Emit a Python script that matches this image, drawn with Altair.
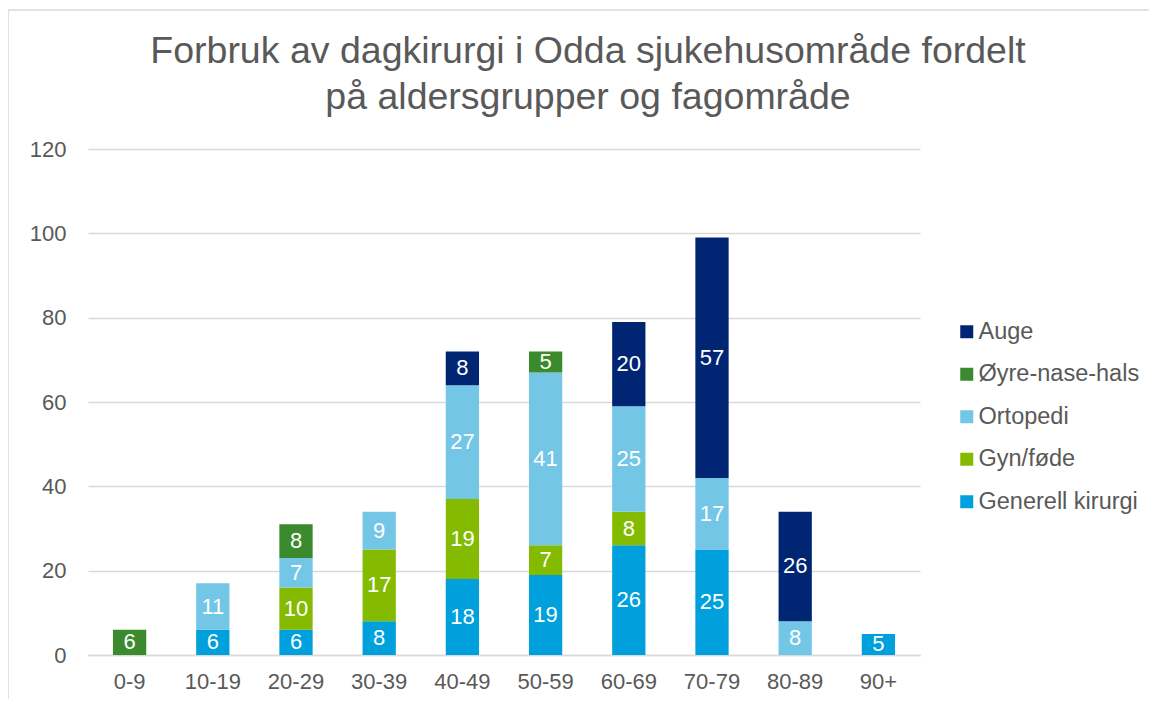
import altair as alt
import pandas as pd

ages = ["0-9", "10-19", "20-29", "30-39", "40-49", "50-59", "60-69", "70-79", "80-89", "90+"]
series = ["Auge", "Øyre-nase-hals", "Ortopedi", "Gyn/føde", "Generell kirurgi"]
colors = ["#002673", "#3B8A2E", "#73C6E6", "#84BB00", "#00A0DD"]

generell = [0, 6, 6, 8, 18, 19, 26, 25, 0, 5]
gyn = [0, 0, 10, 17, 19, 7, 8, 0, 0, 0]
ortopedi = [0, 11, 7, 9, 27, 41, 25, 17, 8, 0]
oyre = [6, 0, 8, 0, 0, 5, 0, 0, 0, 0]
auge = [0, 0, 0, 0, 8, 0, 20, 57, 26, 0]

stack_rank = {"Generell kirurgi": 0, "Gyn/føde": 1, "Ortopedi": 2, "Øyre-nase-hals": 3, "Auge": 4}
vals = {"Generell kirurgi": generell, "Gyn/føde": gyn, "Ortopedi": ortopedi,
        "Øyre-nase-hals": oyre, "Auge": auge}

rows = []
for s, v in vals.items():
    for a, x in zip(ages, v):
        if x > 0:
            rows.append({"age": a, "series": s, "value": x, "rank": stack_rank[s]})
df = pd.DataFrame(rows)

FONT = "Liberation Sans"
GREY = "#595959"

base = alt.Chart(df).transform_stack(
    stack="value", groupby=["age"], as_=["y0", "y1"], sort=[alt.SortField("rank", order="ascending")]
).transform_calculate(mid="(datum.y0 + datum.y1) / 2")

x_enc = alt.X("age:N", sort=ages, title=None,
              scale=alt.Scale(paddingInner=0.6, paddingOuter=0.3),
              axis=alt.Axis(labelAngle=0, labelFontSize=22, labelColor=GREY, labelFont=FONT,
                            ticks=False, domainColor="#D9D9D9", domainWidth=1.5, labelPadding=16))

bars = base.mark_bar().encode(
    x=x_enc,
    y=alt.Y("y0:Q", title=None, scale=alt.Scale(domain=[0, 120]),
            axis=alt.Axis(values=[0, 20, 40, 60, 80, 100, 120], labelFontSize=22, labelColor=GREY,
                          labelFont=FONT, ticks=False, domain=False, gridColor="#D9D9D9",
                          gridWidth=1.5, labelPadding=22)),
    y2="y1:Q",
    color=alt.Color("series:N", scale=alt.Scale(domain=series, range=colors),
                    legend=alt.Legend(title=None, orient="none", legendX=867, legendY=171,
                                      symbolType="square", symbolSize=169, symbolStrokeWidth=0,
                                      labelFontSize=23.5, labelColor=GREY, labelFont=FONT,
                                      labelLimit=400, rowPadding=17.5, labelOffset=0)),
)

labels = base.mark_text(color="white", fontSize=22, font=FONT, baseline="middle").encode(
    x=alt.X("age:N", sort=ages),
    y=alt.Y("mid:Q"),
    text=alt.Text("value:Q"),
)

frame_df = pd.DataFrame({"k": [0]})
frame_left = alt.Chart(frame_df).mark_rule(color="#D9D9D9", strokeWidth=1.5).encode(
    x=alt.value(-80), y=alt.value(-139), y2=alt.value(620))
frame_top = alt.Chart(frame_df).mark_rule(color="#D9D9D9", strokeWidth=1.5).encode(
    x=alt.value(-80), x2=alt.value(1120), y=alt.value(-139))

chart = alt.layer(bars, labels, frame_left, frame_top).properties(
    width=832, height=506,
    title=alt.Title(["Forbruk av dagkirurgi i Odda sjukehusområde fordelt", "på aldersgrupper og fagområde"],
                    fontSize=37.5, font=FONT, color=GREY, fontWeight="normal", anchor="middle",
                    dx=84, dy=129, offset=22, lineHeight=46),
    autosize=alt.AutoSizeParams(type="none"),
    padding={"left": 80, "top": 141, "right": 229, "bottom": 44},
).configure_view(stroke=None)

chart.save("out.html", embed_options={"renderer": "svg", "actions": False})
